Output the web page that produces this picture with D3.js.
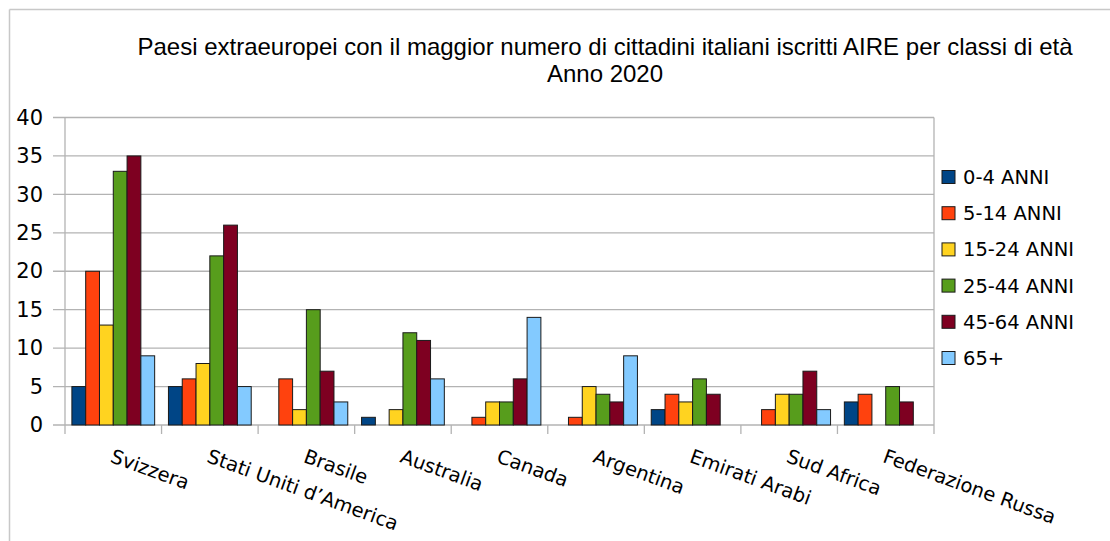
<!DOCTYPE html>
<html>
<head>
<meta charset="utf-8">
<script src="https://cdn.jsdelivr.net/npm/d3@7"></script>
<style>
  body { margin: 0; background: #fff; }
  svg { display: block; }
</style>
</head>
<body>
<div id="chart"></div>
<script>
// chart data
const countries = ['Svizzera', 'Stati Uniti d\u2019America', 'Brasile', 'Australia', 'Canada',
  'Argentina', 'Emirati Arabi', 'Sud Africa', 'Federazione Russa']
const ageGroups = ['0-4 ANNI', '5-14 ANNI', '15-24 ANNI', '25-44 ANNI', '45-64 ANNI', '65+']
const age0_4 = [5, 5, 0, 1, 0, 0, 2, 0, 3]
const age5_14 = [20, 6, 6, 0, 1, 1, 4, 2, 4]
const age15_24 = [13, 8, 2, 2, 3, 5, 3, 4, 0]
const age25_44 = [33, 22, 15, 12, 3, 4, 6, 4, 5]
const age45_64 = [35, 26, 7, 11, 6, 3, 4, 7, 3]
const age65 = [9, 5, 3, 6, 14, 9, 0, 2, 0]
const yTicks = [0, 5, 10, 15, 20, 25, 30, 35, 40]
const colors = ['#004586', '#ff420e', '#ffd320', '#579d1c', '#7e0021', '#83caff']

const series = [age0_4, age5_14, age15_24, age25_44, age45_64, age65]

// canvas
const width = 1110,
  height = 541,
  plotLeft = 65,
  plotRight = 934,
  plotTop = 117.5,
  plotBottom = 425

let svg = d3.select('#chart')
  .append('svg')
  .attr('width', width)
  .attr('height', height)

// outer frame (top and left edges only visible)
svg.append('line').attr('x1', 9.5).attr('x2', width).attr('y1', 9.5).attr('y2', 9.5)
  .attr('stroke', '#c8c8c8').attr('stroke-width', 1.5)
svg.append('line').attr('x1', 9.5).attr('x2', 9.5).attr('y1', 9.5).attr('y2', height)
  .attr('stroke', '#c8c8c8').attr('stroke-width', 1.5)

// title
svg.append('text')
  .attr('x', 605).attr('y', 55)
  .attr('text-anchor', 'middle')
  .style('font-family', 'Liberation Sans, Arial, sans-serif')
  .style('font-size', '24px')
  .text('Paesi extraeuropei con il maggior numero di cittadini italiani iscritti AIRE per classi di et\u00e0')
svg.append('text')
  .attr('x', 605).attr('y', 82)
  .attr('text-anchor', 'middle')
  .style('font-family', 'Liberation Sans, Arial, sans-serif')
  .style('font-size', '24px')
  .text('Anno 2020')

const x = d3.scaleBand()
  .domain(countries)
  .range([plotLeft, plotRight])

const xInner = d3.scaleBand()
  .domain(d3.range(ageGroups.length))
  .range([0, x.bandwidth()])
  .paddingOuter(0.5)

const y = d3.scaleLinear()
  .domain([0, 40])
  .range([plotBottom, plotTop])

// gridlines
svg.append('g')
  .selectAll('line')
  .data(yTicks)
  .enter()
  .append('line')
  .attr('x1', plotLeft - 12)
  .attr('x2', plotRight)
  .attr('y1', d => y(d))
  .attr('y2', d => y(d))
  .attr('stroke', '#b3b3b3')
  .attr('stroke-width', 1.3)

// plot frame right side
svg.append('line').attr('x1', plotRight).attr('x2', plotRight).attr('y1', plotTop).attr('y2', plotBottom)
  .attr('stroke', '#b3b3b3').attr('stroke-width', 1.3)

// y axis
let yAxis = svg.append('g')
  .attr('transform', `translate(${plotLeft},0)`)
  .call(d3.axisLeft(y).tickValues(yTicks).tickSize(0).tickPadding(22))
yAxis.select('.domain').remove()
yAxis.selectAll('text')
  .style('font-family', 'DejaVu Sans, sans-serif')
  .style('font-size', '21px')
  .attr('fill', '#000')
svg.append('line').attr('x1', plotLeft).attr('x2', plotLeft).attr('y1', plotTop).attr('y2', plotBottom + 9)
  .attr('stroke', '#b3b3b3').attr('stroke-width', 1.3)

// x axis category separators
svg.append('g')
  .selectAll('line')
  .data(countries)
  .enter()
  .append('line')
  .attr('x1', d => x(d) + x.step())
  .attr('x2', d => x(d) + x.step())
  .attr('y1', plotBottom)
  .attr('y2', plotBottom + 9)
  .attr('stroke', '#b3b3b3')
  .attr('stroke-width', 1.3)

// bars
series.forEach((vals, s) => {
  svg.append('g')
    .selectAll('rect')
    .data(vals.map((v, i) => ({ v, c: countries[i] })).filter(d => d.v > 0))
    .enter()
    .append('rect')
    .attr('x', d => x(d.c) + xInner(s))
    .attr('y', d => y(d.v))
    .attr('width', xInner.bandwidth())
    .attr('height', d => plotBottom - y(d.v))
    .attr('fill', colors[s])
    .attr('stroke', '#1a1a1a')
    .attr('stroke-width', 1)
})

// x labels
svg.append('g')
  .selectAll('text')
  .data(countries)
  .enter()
  .append('text')
  .attr('transform', d => `translate(${x(d) + x.bandwidth() / 2 + 1},448) rotate(20)`)
  .attr('dy', '0.75em')
  .style('font-family', 'DejaVu Sans, sans-serif')
  .style('font-size', '19.5px')
  .text(d => d)

// legend
let legend = svg.append('g')
  .selectAll('g')
  .data(ageGroups)
  .enter()
  .append('g')
  .attr('transform', (d, i) => `translate(942,${170.5 + i * 36.2})`)
legend.append('rect')
  .attr('width', 13)
  .attr('height', 13)
  .attr('fill', (d, i) => colors[i])
  .attr('stroke', '#1a1a1a')
legend.append('text')
  .attr('x', 21)
  .attr('y', 6.5)
  .attr('dy', '0.36em')
  .style('font-family', 'DejaVu Sans, sans-serif')
  .style('font-size', '19.5px')
  .text(d => d)
</script>
</body>
</html>
